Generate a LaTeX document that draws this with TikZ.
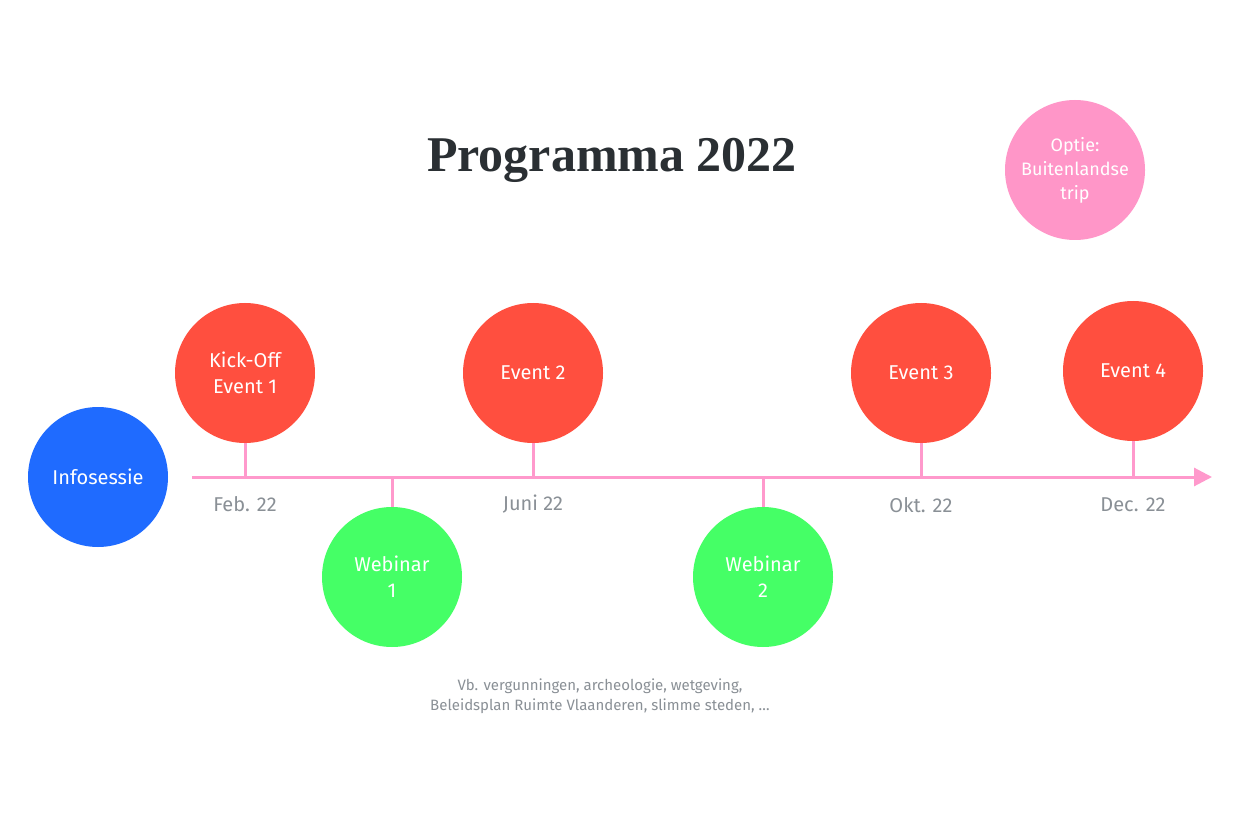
\documentclass[tikz,border=0pt]{standalone}
\usepackage{fontspec}
\setmainfont{Fira Sans}
\newfontfamily\titlefont{Liberation Serif}
\usetikzlibrary{arrows.meta}
\definecolor{cred}{HTML}{FF4F3F}
\definecolor{cblue}{HTML}{1F6BFF}
\definecolor{cgreen}{HTML}{45FF66}
\definecolor{cpink}{HTML}{FF96C8}
\definecolor{cline}{HTML}{FF99CC}
\definecolor{cgray}{HTML}{8A9096}
\definecolor{ctitle}{HTML}{2A2F33}
\begin{document}
\begin{tikzpicture}[x=1pt,y=-1pt,
  ev/.style={circle,minimum size=140pt,inner sep=0pt,text=white,align=center,font=\fontsize{20}{26}\selectfont},
  lab/.style={text=cgray,font=\fontsize{20}{24}\selectfont},
  tick/.style={draw=cline,line width=3pt}]
\useasboundingbox (0,0) rectangle (1250,834);
\fill[white] (0,0) rectangle (1250,834);
\node[font=\titlefont\bfseries\fontsize{50}{60}\selectfont,text=ctitle] (title) at (612,160) {Programma 2022};
\coordinate (ls) at (192,477);
\coordinate (le) at (1212,477);
\draw[draw=cline,line width=3pt,-{Triangle[length=18pt,width=18pt]}] (ls) -- (le);
\node[ev,fill=cblue] (info) at (98,477) {Infosessie};
\node[ev,fill=cred] (e1) at (245,373) {Kick-Off\\Event 1};
\node[ev,fill=cred] (e2) at (533,373) {Event 2};
\node[ev,fill=cred] (e3) at (921,373) {Event 3};
\node[ev,fill=cred] (e4) at (1133,371) {Event 4};
\node[ev,fill=cgreen] (w1) at (392,577) {Webinar\\1};
\node[ev,fill=cgreen] (w2) at (763,577) {Webinar\\2};
\node[ev,fill=cpink,font=\fontsize{18}{24}\selectfont] (opt) at (1075,170) {Optie:\\Buitenlandse\\trip};
\foreach \n/\x in {e1/245,e2/533,e3/921,e4/1133}{
  \coordinate (t\n) at (\x,477);
  \draw[tick] (\n.south) -- (t\n);}
\foreach \n/\x in {w1/392,w2/763}{
  \coordinate (t\n) at (\x,477);
  \draw[tick] (t\n) -- (\n.north);}
\node[lab] (l1) at (245,504) {Feb. 22};
\node[lab] (l2) at (533,504) {Juni 22};
\node[lab] (l3) at (921,505) {Okt. 22};
\node[lab] (l4) at (1133,505) {Dec. 22};
\node[text=cgray,align=center,font=\fontsize{15}{20}\selectfont] (note) at (600,696) {Vb. vergunningen, archeologie, wetgeving,\\Beleidsplan Ruimte Vlaanderen, slimme steden, \dots};
\end{tikzpicture}
\end{document}
